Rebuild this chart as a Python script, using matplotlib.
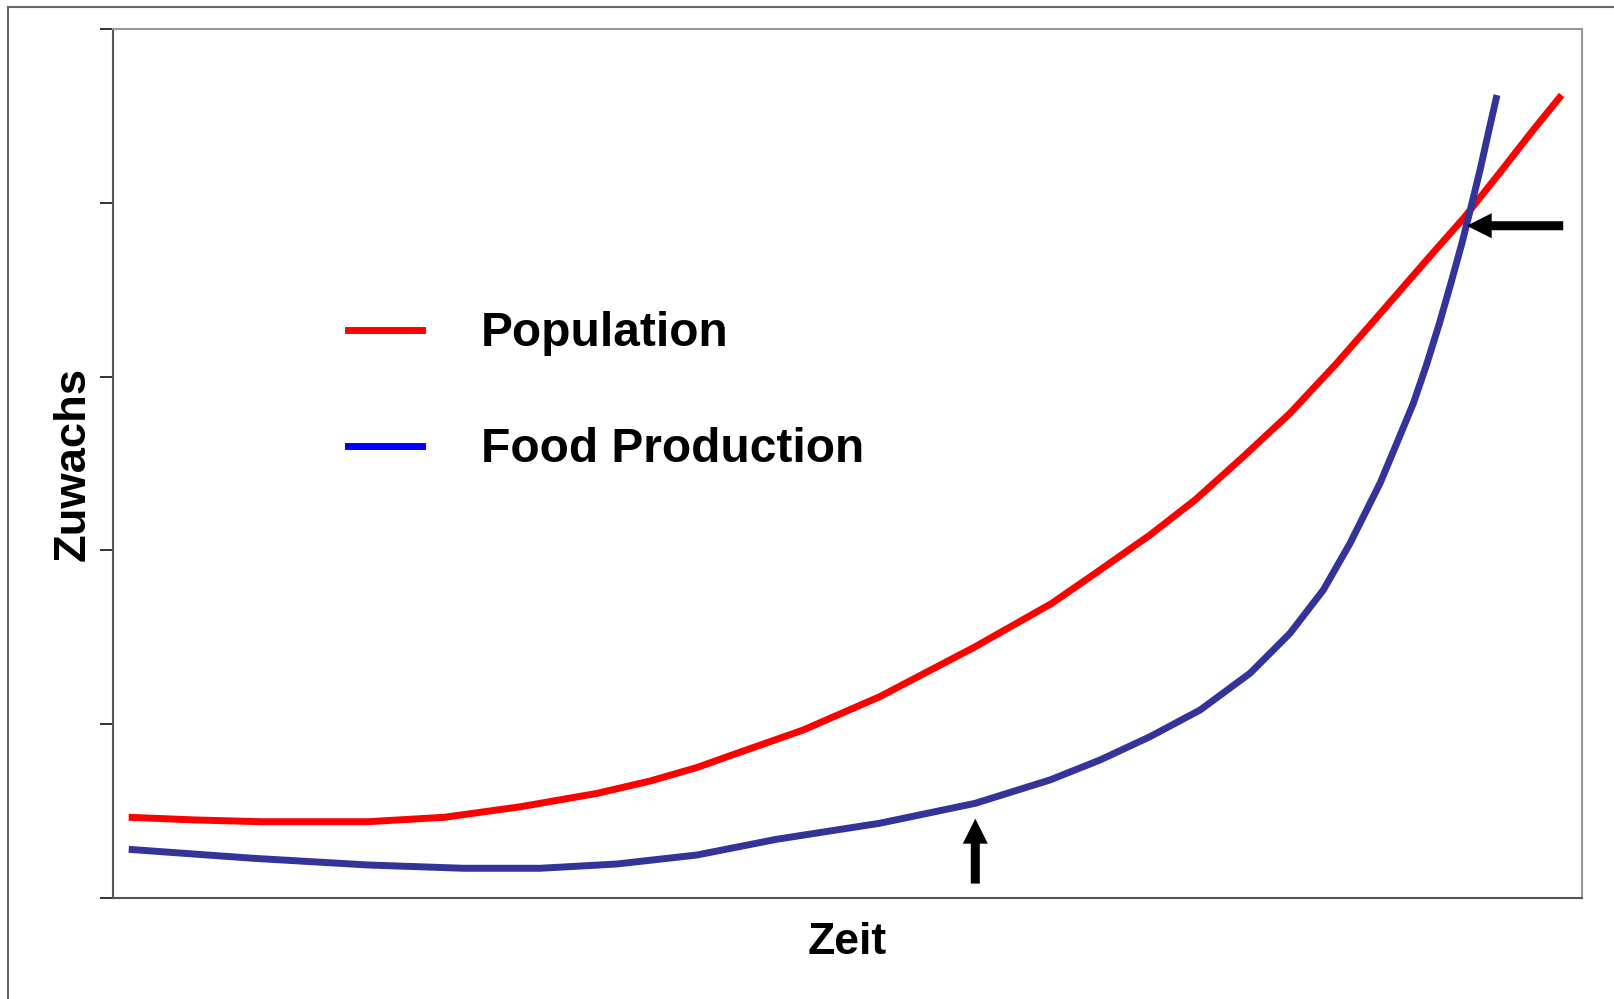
import matplotlib.pyplot as plt
from matplotlib.lines import Line2D

# values (axes scaled 0..100 in both directions)
zeit_pop = [1.07, 5.63, 10.05, 17.35, 22.56, 27.77, 32.98, 36.56, 39.76, 41.76,
            46.98, 52.19, 58.70, 63.91, 67.19, 70.59, 73.66, 76.94, 80.12, 83.30,
            86.47, 89.43, 92.03, 94.64, 96.68, 98.61]
population = [9.29, 8.98, 8.78, 8.78, 9.29, 10.51, 12.05, 13.46, 15.02, 16.23,
              19.33, 23.16, 28.92, 33.91, 37.74, 41.77, 45.80, 50.78, 55.78, 61.53,
              67.66, 73.42, 78.40, 83.97, 88.38, 92.40]

zeit_food = [1.07, 9.54, 17.35, 23.87, 29.07, 34.28, 39.76, 45.15, 52.19, 58.70,
             63.78, 67.19, 70.59, 74.00, 77.40, 80.12, 82.39, 84.21, 84.89, 86.25,
             87.39, 88.52, 89.41, 90.30, 91.08, 91.83, 92.48, 93.09, 93.67, 94.21]
food = [5.60, 4.57, 3.80, 3.42, 3.42, 3.91, 4.95, 6.75, 8.60, 10.90,
        13.58, 15.88, 18.56, 21.63, 25.86, 30.46, 35.44, 40.82, 43.12, 47.72,
        52.32, 56.93, 61.33, 66.17, 70.77, 75.37, 79.75, 84.00, 88.38, 92.40]

labels = ["Population", "Food Production"]
y_ticks = [0, 20, 40, 60, 80, 100]

# arrows: (tail, tip)
arrows = [((98.72, 77.36), (92.15, 77.36)),
          ((58.70, 1.66), (58.70, 9.13))]

plt.rcParams['font.family'] = ['Liberation Sans', 'DejaVu Sans']
plt.rcParams['font.weight'] = 'bold'

fig = plt.figure(figsize=(16.14, 9.99), dpi=100)
ax = fig.add_axes([113 / 1614, 1 - 898 / 999, 1469 / 1614, 869 / 999])

ax.plot(zeit_pop, population, color='#ff0000', lw=5,
        solid_capstyle='butt', solid_joinstyle='round')
ax.plot(zeit_food, food, color='#333399', lw=5,
        solid_capstyle='butt', solid_joinstyle='round')

for tail, tip in arrows:
    ax.annotate('', xy=tip, xytext=tail,
                arrowprops=dict(arrowstyle='simple,head_length=1.8,head_width=1.8,tail_width=0.65',
                                fc='black', ec='black', lw=0, shrinkA=0, shrinkB=0,
                                mutation_scale=10))

handles = [Line2D([], [], color='#ff0000', lw=5),
           Line2D([], [], color='#0000ff', lw=5)]
ax.legend(handles, labels, loc='upper left', bbox_to_anchor=(0.160, 0.675),
          frameon=False, fontsize=34.5, handlelength=1.55, handletextpad=1.22,
          labelspacing=1.48, borderpad=0, borderaxespad=0)

ax.set_xlim(0, 100)
ax.set_ylim(0, 100)
ax.set_xticks([])
ax.set_yticks(y_ticks)
ax.set_yticklabels([])
ax.tick_params(axis='y', direction='out', length=9.5, width=1.4, color='#333333')

ax.spines['left'].set_color('#555555')
ax.spines['bottom'].set_color('#555555')
ax.spines['top'].set_color('#999999')
ax.spines['right'].set_color('#999999')
for s in ax.spines.values():
    s.set_linewidth(1.5)

ax.set_xlabel('Zeit', fontsize=32, fontweight='bold', labelpad=17)
ax.set_ylabel('Zuwachs', fontsize=32.7, fontweight='bold', labelpad=1)

# outer frame (only top and left edges visible in the reference)
fig.add_artist(Line2D([7.5 / 1614, 7.5 / 1614], [0, 1 - 6.5 / 999],
                      transform=fig.transFigure, color='#666666', lw=1.5))
fig.add_artist(Line2D([7.5 / 1614, 1], [1 - 6.5 / 999, 1 - 6.5 / 999],
                      transform=fig.transFigure, color='#666666', lw=1.5))

fig.savefig('out.png', dpi=100)
